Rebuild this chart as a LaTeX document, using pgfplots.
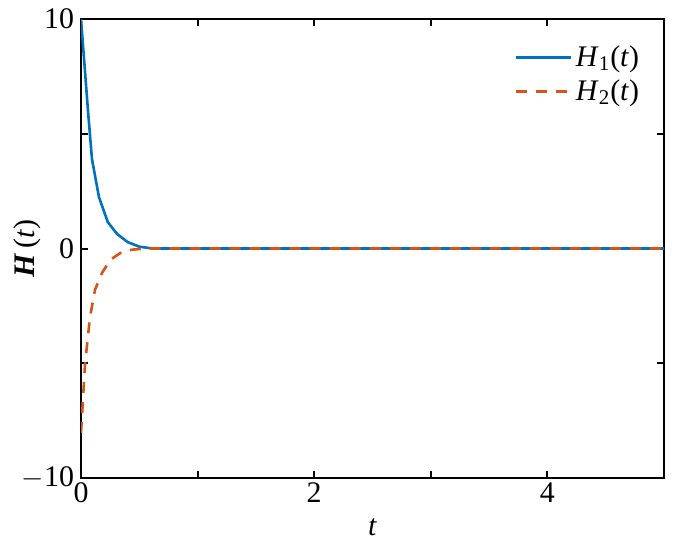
\documentclass[border=0pt]{standalone}
\usepackage{pgfplots}
\pgfplotsset{compat=1.18}
\usepackage{fontspec}
\setmainfont{Liberation Serif}
\definecolor{mblue}{RGB}{0,114,189}
\definecolor{morange}{RGB}{217,83,25}
\begin{document}
\begin{tikzpicture}
\begin{axis}[
  width=291.5bp, height=229.5bp, scale only axis,
  xmin=0, xmax=5, ymin=-10, ymax=10,
  xtick={0,1,2,3,4,5}, xticklabels={0,,2,,4,},
  ytick={-10,-5,0,5,10}, yticklabels={$-$10,,0,,10},
  tick align=inside, major tick length=3.5bp,
  tick style={line width=1bp, black},
  axis line style={line width=1.2bp},
  /pgf/number format/assume math mode=true,
  ticklabel style={font=\fontsize{15}{17}\selectfont},
  xticklabel style={yshift=1bp},
  xlabel={\textit{t}}, ylabel={\textbf{\textit{H}}\,(\textit{t})},
  label style={font=\fontsize{15}{17}\selectfont},
  xlabel style={at={(axis description cs:0.5,-0.1068)}, anchor=center},
  ylabel style={at={(axis description cs:-0.0926,0.5)}, anchor=center},
  legend style={draw=none, fill=none, at={(0.975,0.96)}, anchor=north east,
    font=\fontsize{15}{17}\selectfont, row sep=1bp},
  legend cell align=left,
  legend image post style={xscale=1.6},
]
\addplot[mblue, line width=1.3bp] coordinates {
(0,10) (0.03,8.0) (0.06,6.0) (0.094,3.9) (0.154,2.24) (0.23,1.15) (0.31,0.63) (0.4,0.28) (0.5,0.08) (0.6,0.01) (0.7,0) (1,0) (2,0) (3,0) (4,0) (5,0)};
\addlegendentry{\textit{H}\textsubscript{1}(\textit{t})}
\addplot[morange, line width=1.3bp, dash pattern=on 5.5bp off 4.5bp] coordinates {
(0,-8.04) (0.035,-5.0) (0.077,-3.0) (0.12,-1.8) (0.18,-1.07) (0.25,-0.5) (0.35,-0.15) (0.44,-0.05) (0.55,0) (1,0) (2,0) (3,0) (4,0) (5,0)};
\addlegendentry{\textit{H}\textsubscript{2}(\textit{t})}
\end{axis}
\path (current axis.south west) ++(-40.5bp,-35.5bp) coordinate (bl);
\path (current axis.north east) ++(18bp,9.5bp) coordinate (tr);
\useasboundingbox (bl) rectangle (tr);
\end{tikzpicture}
\end{document}
